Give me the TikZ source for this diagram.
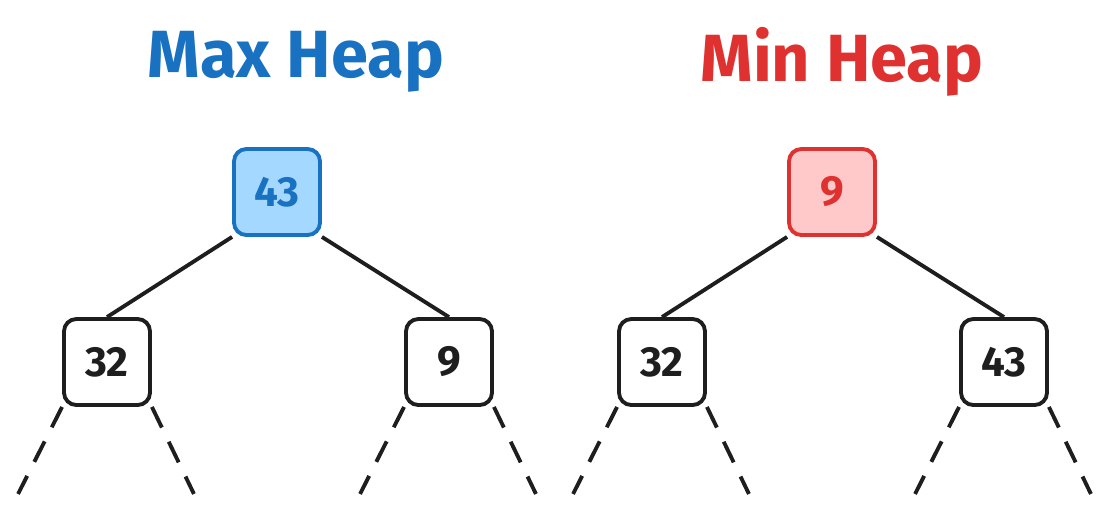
\documentclass[tikz,border=0pt]{standalone}
\usepackage{fontspec}
\setmainfont{Fira Sans}
\usetikzlibrary{positioning}
\definecolor{maxblue}{HTML}{1971C2}
\definecolor{maxfill}{HTML}{A5D8FF}
\definecolor{minred}{HTML}{E03131}
\definecolor{minfill}{HTML}{FFC9C9}
\definecolor{ink}{HTML}{1E1E1E}
\tikzset{
  keybox/.style={draw=ink,fill=white,line width=2.2pt,rounded corners=7pt,minimum size=1.72cm,
    font=\fontsize{24}{24}\selectfont\bfseries,text=ink},
  edge/.style={draw=ink,line width=2.2pt},
  subtree/.style={draw=ink,line width=2.2pt,dash pattern=on 13pt off 9pt},
  title/.style={font=\fontsize{38}{38}\selectfont\bfseries}
}
\begin{document}
\begin{tikzpicture}[x=0.02cm,y=-0.02cm]
  \useasboundingbox (0,0) rectangle (1110,512);
  % Max heap
  \node[title,text=maxblue] (maxT) at (296,62) {Max Heap};
  \node[keybox,draw=maxblue,fill=maxfill,text=maxblue] (maxR) at (277,192) {43};
  \node[keybox] (maxL) at (107,362) {32};
  \node[keybox] (maxRt) at (449,362) {9};
  \draw[edge] (maxR.south west) -- (maxL.north);
  \draw[edge] (maxR.south east) -- (maxRt.north);
  \foreach \n in {maxL,maxRt} {
    \draw[subtree] (\n.south west) -- ++(-44,87);
    \draw[subtree] (\n.south east) -- ++(42,87);
  }
  % Min heap
  \node[title,text=minred] (minT) at (842,62) {Min Heap};
  \node[keybox,draw=minred,fill=minfill,text=minred] (minR) at (832,192) {9};
  \node[keybox] (minL) at (662,362) {32};
  \node[keybox] (minRt) at (1004,362) {43};
  \draw[edge] (minR.south west) -- (minL.north);
  \draw[edge] (minR.south east) -- (minRt.north);
  \foreach \n in {minL,minRt} {
    \draw[subtree] (\n.south west) -- ++(-44,87);
    \draw[subtree] (\n.south east) -- ++(42,87);
  }
\end{tikzpicture}
\end{document}
